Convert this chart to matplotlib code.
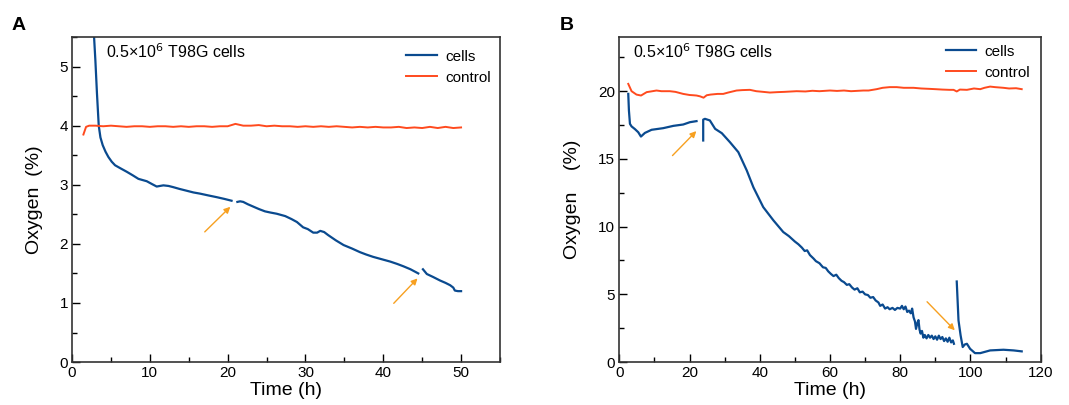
import numpy as np
import matplotlib
matplotlib.use("Agg")
import matplotlib.pyplot as plt
from matplotlib.ticker import MultipleLocator

plt.rcParams['font.family'] = ['Liberation Sans', 'DejaVu Sans']

nan = np.nan

# panel A, cells (nan = break in the trace)
a_cells_t = [2.83, 3.0, 3.2, 3.43, 3.65, 3.94, 4.3, 4.67, 5.1, 5.53, 6.2, 7.03, 7.8, 8.53, 9.6, 10.3,
             10.88, 11.3, 11.74, 12.4, 13.0, 13.8, 14.7, 15.6, 16.45, 17.5, 18.6, 19.6, 20.5, 20.9,
             21.25, 21.6, 22.0, 22.6, 23.3, 24.0, 24.8, 25.5, 26.3, 27.4, 28.2, 28.9, 29.7, 30.3,
             31.0, 31.5, 31.9, 32.4, 32.9, 33.9, 34.9, 36.0, 37.0, 37.8, 38.7, 39.8, 40.9, 41.8,
             42.6, 43.5, 44.5, 44.8, 45.1, 45.6, 46.4, 47.3, 48.0, 48.6, 49.0, 49.2, 49.6, 50.0]
a_cells_o = [5.5, 5.1, 4.55, 4.0, 3.8, 3.67, 3.56, 3.47, 3.39, 3.33, 3.28, 3.22, 3.16, 3.1, 3.06, 3.01,
             2.97, 2.98, 2.99, 2.98, 2.96, 2.93, 2.9, 2.87, 2.85, 2.82, 2.79, 2.76, 2.73, nan,
             2.71, 2.72, 2.71, 2.67, 2.63, 2.59, 2.55, 2.53, 2.51, 2.47, 2.42, 2.37, 2.28, 2.25,
             2.19, 2.19, 2.22, 2.2, 2.15, 2.06, 1.98, 1.92, 1.86, 1.82, 1.78, 1.74, 1.7, 1.66,
             1.62, 1.57, 1.5, nan, 1.57, 1.49, 1.44, 1.38, 1.34, 1.3, 1.26, 1.21, 1.2, 1.2]

# panel A, control
a_ctrl_t = [1.46, 1.8, 2.2, 3, 4, 5, 6, 7, 8, 9, 10, 11, 12, 13, 14, 15, 16, 17, 18, 19, 20, 21, 22,
            23, 24, 25, 26, 27, 28, 29, 30, 31, 32, 33, 34, 35, 36, 37, 38, 39, 40, 41, 42, 43, 44,
            45, 46, 47, 48, 49, 50]
a_ctrl_o = [3.85, 3.98, 4.0, 4.0, 3.99, 4.0, 3.99, 3.98, 3.99, 3.99, 3.98, 3.99, 3.99, 3.98, 3.99,
            3.98, 3.99, 3.99, 3.98, 3.99, 3.99, 4.03, 4.0, 4.0, 4.01, 3.99, 4.0, 3.99, 3.99, 3.98,
            3.99, 3.98, 3.99, 3.98, 3.99, 3.98, 3.97, 3.98, 3.97, 3.98, 3.97, 3.97, 3.98, 3.96,
            3.97, 3.96, 3.98, 3.96, 3.98, 3.96, 3.97]

# panel B, cells
b_cells_t = [2.56, 2.75, 3.04, 3.5, 4.46, 5.4, 6.17, 7.3, 9.2, 12.5, 15.4, 18.2, 20.1, 22.0, 23.0,
             23.9, 23.9, 24.4, 25.8, 27.3, 29.2, 31.5, 33.9, 36.3, 38.2, 41.0, 43.9, 46.7, 48.3,
             50.0, 51.0, 52.0, 52.8, 53.5, 54.3, 55.3, 56.0, 57.0, 58.0, 58.8, 59.5, 60.3, 61.0,
             61.8, 62.5, 63.3, 64.0, 64.8, 65.5, 66.3, 67.0, 67.8, 68.5, 69.3, 70.0, 70.8, 71.5,
             72.3, 73.0, 73.8, 74.3, 75.0, 75.7, 76.4, 77.0, 77.8, 78.5, 79.2, 80.0, 80.5, 81.0,
             81.5, 82.0, 82.5, 83.0, 83.4, 83.8, 84.2, 84.5, 84.9, 85.2, 85.5, 85.8, 86.2, 86.6,
             87.0, 87.5, 88.0, 88.5, 89.0, 89.5, 90.0, 90.5, 91.0, 91.5, 92.0, 92.5, 93.0, 93.5,
             94.0, 94.5, 95.0, 95.3, 95.7,
             96.1, 96.6, 97.2, 97.8, 98.4, 99.0, 99.9, 101.3, 102.8, 105.6, 109.4, 112.3, 114.6]
b_cells_o = [19.8, 18.57, 17.59, 17.4, 17.2, 16.97, 16.65, 16.92, 17.15, 17.27, 17.44, 17.54, 17.71, 17.79, nan,
             16.36, 17.9, 17.96, 17.84, 17.22, 16.9, 16.24, 15.5, 14.15, 12.9, 11.44, 10.46, 9.6, 9.3,
             8.9, 8.7, 8.45, 8.2, 8.25, 7.9, 7.65, 7.45, 7.3, 7.0, 6.95, 6.7, 6.5, 6.35,
             6.45, 6.2, 6.0, 5.9, 5.7, 5.75, 5.5, 5.35, 5.45, 5.15, 5.2, 5.0, 4.95, 4.75,
             4.8, 4.55, 4.4, 4.15, 4.25, 3.95, 4.05, 3.9, 4.0, 3.85, 4.0, 3.95, 4.15, 3.9,
             4.1, 3.7, 3.8, 3.6, 3.95, 3.3, 3.0, 2.45, 2.9, 3.1, 2.4, 2.1, 2.3, 1.8,
             2.0, 1.75, 2.0, 1.8, 1.95, 1.7, 1.9, 1.65, 1.95, 1.7, 1.85, 1.55, 1.75, 1.5,
             1.8, 1.45, 1.6, 1.35, nan,
             5.95, 3.08, 1.97, 1.11, 1.3, 1.35, 0.98, 0.66, 0.66, 0.86, 0.91, 0.86, 0.79]

# panel B, control
b_ctrl_t = [2.56, 3.5, 4.9, 6.2, 7.8, 9, 10.6, 12, 14.4, 16, 18.2, 20, 21.1, 22, 23, 24, 24.9, 26,
            28, 29.6, 31, 33.4, 35, 37.2, 39, 41, 42.9, 45, 47, 50.5, 53, 55, 57, 60, 62, 64, 66,
            69.5, 71, 73.3, 75, 77, 79, 81, 83.8, 86, 88.5, 90, 92, 94, 95.2, 96.1, 97, 99, 101,
            102.8, 104, 105.6, 107, 109.4, 111, 113, 114.6]
b_ctrl_o = [20.54, 20.0, 19.75, 19.68, 19.93, 19.98, 20.05, 20.0, 20.0, 19.95, 19.8, 19.72, 19.7,
            19.68, 19.62, 19.52, 19.7, 19.75, 19.8, 19.8, 19.9, 20.05, 20.08, 20.1, 20.0, 19.95,
            19.9, 19.93, 19.95, 20.0, 19.98, 20.03, 20.0, 20.05, 20.02, 20.05, 20.0, 20.05, 20.05,
            20.15, 20.25, 20.3, 20.3, 20.25, 20.25, 20.2, 20.17, 20.15, 20.12, 20.1, 20.1, 19.98,
            20.12, 20.1, 20.2, 20.15, 20.25, 20.34, 20.3, 20.25, 20.2, 20.22, 20.15]

# arrows marking the breaks: (tail, head) in data units
a_arrows = [((16.8, 2.17), (20.6, 2.66)), ((41.1, 0.96), (44.65, 1.45))]
b_arrows = [((14.6, 15.1), (22.5, 17.2)), ((87.1, 4.6), (96.1, 2.2))]

blue = '#0a4a8f'
red = '#ff4a1e'
orange = '#f7a020'

fig = plt.figure(figsize=(10.69, 4.05), dpi=100)
axA = fig.add_axes([0.0674, 0.106, 0.4003, 0.8026])
axB = fig.add_axes([0.5793, 0.106, 0.3942, 0.8026])


def style(ax, xlim, ylim, xmaj, xmin, ymaj, ymin, text_x, leg_anchor):
    ax.set_xlim(*xlim)
    ax.set_ylim(*ylim)
    ax.xaxis.set_major_locator(MultipleLocator(xmaj))
    ax.xaxis.set_minor_locator(MultipleLocator(xmin))
    ax.yaxis.set_major_locator(MultipleLocator(ymaj))
    ax.yaxis.set_minor_locator(MultipleLocator(ymin))
    ax.tick_params(which='both', direction='in', labelsize=11, pad=3)
    ax.tick_params(which='major', length=6, width=1)
    ax.tick_params(which='minor', length=3.5, width=1)
    for s in ax.spines.values():
        s.set_color('#333333')
        s.set_linewidth(1.2)
    ax.set_xlabel('Time (h)', fontsize=14, labelpad=1)
    ax.text(text_x, 0.955, r'0.5×10$^6$ T98G cells',
            transform=ax.transAxes, fontsize=11.5, va='center', ha='left')
    ax.legend(loc='upper right', frameon=False, fontsize=11, handlelength=2.0,
              handletextpad=0.55, labelspacing=0.45, borderaxespad=0,
              bbox_to_anchor=leg_anchor)


for ax, ct, co, kt, ko, arrows in [(axA, a_cells_t, a_cells_o, a_ctrl_t, a_ctrl_o, a_arrows),
                                   (axB, b_cells_t, b_cells_o, b_ctrl_t, b_ctrl_o, b_arrows)]:
    ax.plot(ct, co, color=blue, lw=1.6, label='cells')
    ax.plot(kt, ko, color=red, lw=1.4, label='control')
    for tail, head in arrows:
        ax.annotate('', xy=head, xytext=tail,
                    arrowprops=dict(arrowstyle='-|>', color=orange, lw=1, mutation_scale=9))

style(axA, (0, 55), (0, 5.5), 10, 5, 1, 0.5, 0.08, (0.993, 0.98))
style(axB, (0, 120), (0, 24), 20, 10, 5, 2.5, 0.033, (0.99, 0.995))
axA.set_ylabel('Oxygen  (%)', fontsize=14, labelpad=12)
axB.set_ylabel('Oxygen    (%)', fontsize=14, labelpad=12)

fig.text(0.017, 0.938, 'A', fontsize=14, fontweight='bold', va='center', ha='center')
fig.text(0.53, 0.938, 'B', fontsize=14, fontweight='bold', va='center', ha='center')

fig.savefig('out.png', dpi=100)
